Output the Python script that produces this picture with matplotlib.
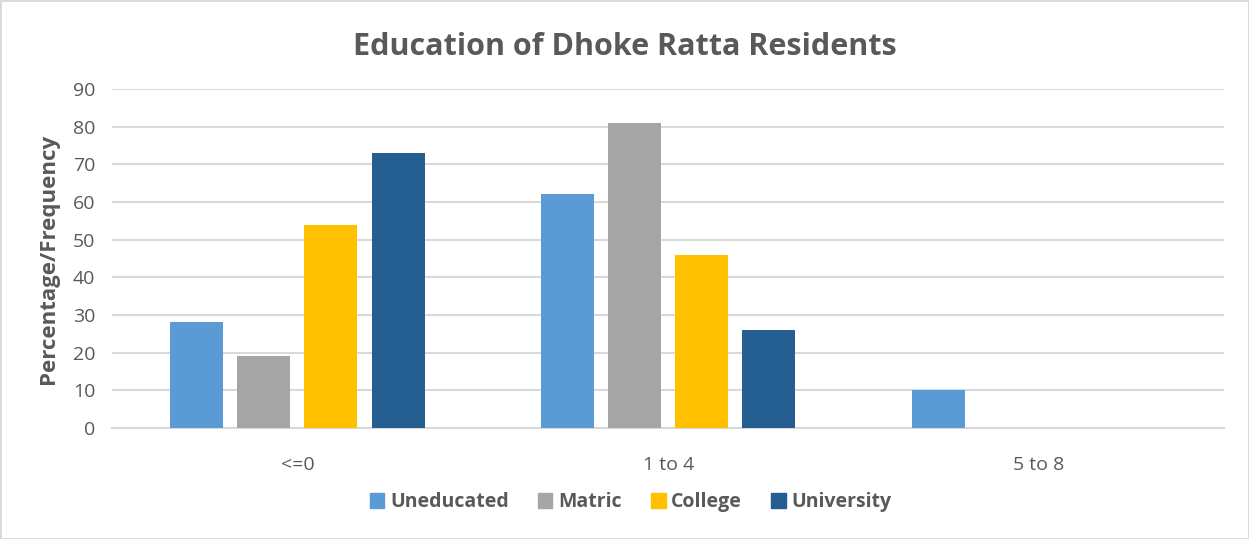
import numpy as np
from matplotlib import pyplot as plt
from matplotlib.patches import Rectangle

plt.rcParams['font.family'] = ['Open Sans', 'DejaVu Sans']

categories = ['<=0', '1 to 4', '5 to 8']
series = ['Uneducated', 'Matric', 'College', 'University']
values = {
    'Uneducated': [28, 62, 10],
    'Matric': [19, 81, 0],
    'College': [54, 46, 0],
    'University': [73, 26, 0],
}
colors = ['#5B9BD5', '#A5A5A5', '#FFC000', '#255E91']

fig = plt.figure(figsize=(12.49, 5.39), dpi=100)
ax = fig.add_axes([0.0897, 0.206, 0.8906, 0.629])

x = np.arange(len(categories))
width = 0.143
step = 0.181
for i, name in enumerate(series):
    off = (i - 1.5) * step
    ax.bar(x + off, values[name], width, color=colors[i], label=name, zorder=3)

ax.set_xlim(-0.5, 2.5)
ax.set_ylim(0, 90)
ax.set_yticks(range(0, 91, 10))
ax.set_xticks(x)
ax.set_xticklabels(categories)
ax.tick_params(length=0, labelsize=14, colors='#595959', pad=12)
ax.tick_params(axis='x', pad=20)
ax.grid(axis='y', color='#D9D9D9', linewidth=1.5, zorder=0)
for s in ['top', 'right', 'left']:
    ax.spines[s].set_visible(False)
ax.spines['bottom'].set_color('#D9D9D9')
ax.spines['bottom'].set_linewidth(1.5)

ax.set_ylabel('Percentage/Frequency', fontsize=16, fontweight='bold', color='#595959', labelpad=10)
fig.suptitle('Education of Dhoke Ratta Residents', x=0.5, y=0.94, fontsize=22,
             fontweight='bold', color='#595959')

handles = [Rectangle((0, 0), 1, 1, color=c) for c in colors]
leg = fig.legend(handles, series, loc='center', bbox_to_anchor=(0.505, 0.068), ncol=4,
                 frameon=False, handlelength=0.75, handleheight=0.75, handletextpad=0.3,
                 columnspacing=1.5, prop={'size': 14, 'weight': 'bold'})
for t in leg.get_texts():
    t.set_color('#595959')

fig.patches.append(Rectangle((0, 0), 1, 1, transform=fig.transFigure, fill=False,
                             edgecolor='#D9D9D9', linewidth=2))

plt.savefig('out.png', dpi=100)
